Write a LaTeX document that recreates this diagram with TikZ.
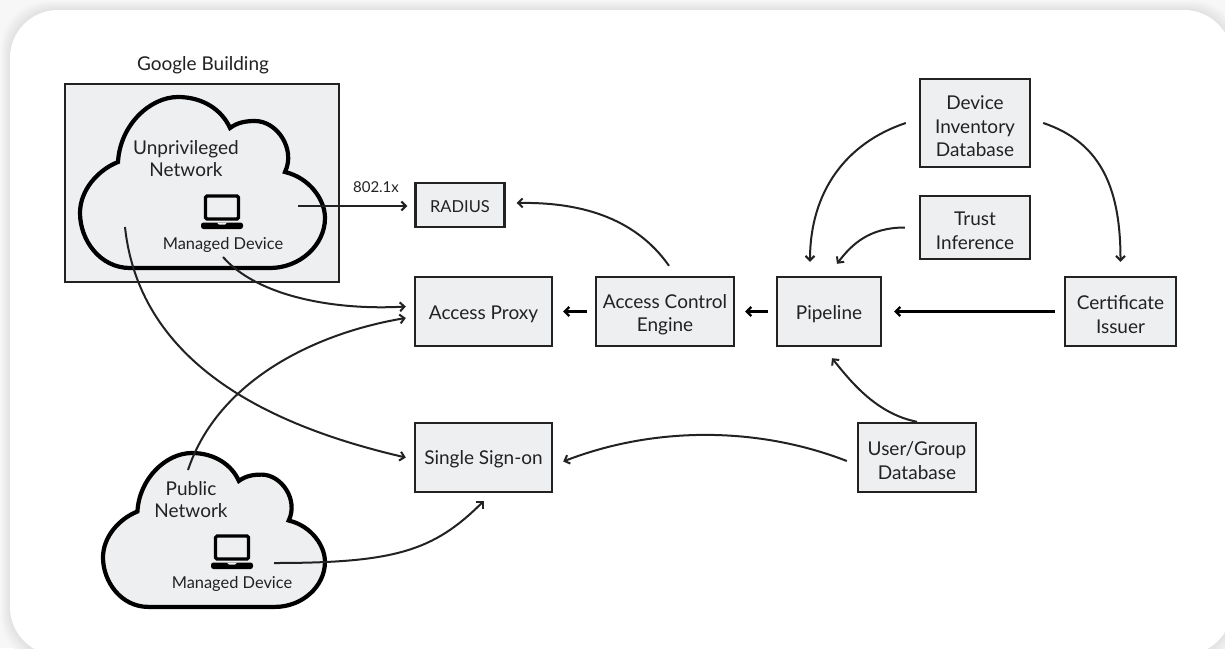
\documentclass[tikz,border=0pt]{standalone}
\usepackage{fontspec}
\setmainfont{Lato}
\usetikzlibrary{arrows.meta}

\definecolor{boxgrey}{HTML}{EEEFF1}
\definecolor{inkdark}{HTML}{222222}
\newcommand{\firstln}{\rule{0pt}{1.08em}}

\tikzset{
  boxnode/.style={draw=inkdark,fill=boxgrey,line width=2.4pt,text=inkdark,align=center,inner sep=0pt,
    font=\fontsize{19}{23.5}\selectfont,execute at begin node={\rule{0pt}{.97em}}},
  textnode/.style={text=inkdark,align=center,inner sep=0pt,font=\fontsize{19}{22}\selectfont},
  smalltext/.style={text=inkdark,align=center,inner sep=0pt,font=\fontsize{16.4}{18}\selectfont},
  curved/.style={draw=inkdark,line width=2pt,-{Straight Barb[length=4.5pt,width=9pt,line width=2pt]}},
  straight/.style={draw=black,line width=2.2pt,-{Straight Barb[length=4.5pt,width=9pt,line width=2.2pt]}},
  cloudpic/.pic={
    \draw[draw=black,fill=boxgrey,line width=4.2pt,miter limit=2]
      (50,171) .. controls (20,171) and (0,143) .. (0,116)
      .. controls (0,93) and (18,73) .. (38,65)
      .. controls (40,28) and (70,0) .. (98,0)
      .. controls (123,0) and (142,13) .. (150,31)
      .. controls (158,25) and (167,24) .. (175,24)
      .. controls (197,24) and (216,52) .. (205,75)
      .. controls (230,81) and (245,103) .. (245,121)
      .. controls (245,148) and (220,171) .. (190,171) -- cycle;
  },
  laptoppic/.pic={
    \draw[black,line width=3.2pt,rounded corners=1.5pt] (-16.5,-13) rectangle (16.5,10);
    \fill[black,rounded corners=2.5pt] (-21,13.5) rectangle (21,20);
    \fill[boxgrey] (-5,13.5) -- (5,13.5) -- (3,15.5) -- (-3,15.5) -- cycle;
  },
}

\begin{document}
\begin{tikzpicture}[x=1pt,y=-1pt]
\useasboundingbox (0,0) rectangle (1225,648);
\begin{scope}
\clip (0,0) rectangle (1225,648);
\fill[black!3] (0,0) rectangle (1225,648);
\foreach \i in {1,...,9} {
  \pgfmathsetmacro{\grow}{10-\i}
  \pgfmathsetmacro{\shade}{3+\i*0.9}
  \fill[black!\shade,rounded corners=48pt] (10-\grow,10-\grow) rectangle (1232+\grow,655+\grow);
}
\fill[white,rounded corners=48pt] (10,10) rectangle (1232,655);
\end{scope}

% building and networks
\node[boxnode,minimum width=274pt,minimum height=198pt] (building) at (202,183) {};
\node[textnode] (buildinglabel) at (203,65) {Google Building};
\pic at (80,97) {cloudpic};
\pic[xscale=.906,yscale=.9] at (103,453) {cloudpic};
\node[textnode] (unprivnet) at (186,159) {Unprivileged\\Network};
\node[textnode] (publicnet) at (191,500) {Public\\Network};
\pic at (222,209) {laptoppic};
\pic at (232,549) {laptoppic};
\node[smalltext] (unprivdev) at (223,245) {Managed Device};
\node[smalltext] (publicdev) at (232,584) {Managed Device};

% servers
\node[boxnode,minimum width=89pt,minimum height=44pt,font=\fontsize{16.5}{18}\selectfont] (radius) at (460,205) {RADIUS};
\node[boxnode,minimum width=137pt,minimum height=69pt] (proxy) at (483.5,311.5) {Access Proxy};
\node[boxnode,minimum width=138pt,minimum height=69pt] (ace) at (665,311.5) {\firstln Access Control\\Engine};
\node[boxnode,minimum width=104pt,minimum height=69pt] (pipeline) at (829,311.5) {Pipeline};
\node[boxnode,minimum width=111pt,minimum height=69pt] (cert) at (1120.5,311.5) {\firstln Certificate\\Issuer};
\node[boxnode,minimum width=110pt,minimum height=88pt] (device) at (975,123) {\firstln Device\\Inventory\\Database};
\node[boxnode,minimum width=110pt,minimum height=63pt] (trust) at (975,227.5) {\firstln Trust\\Inference};
\node[boxnode,minimum width=118pt,minimum height=69pt] (usergroup) at (917,457.5) {\firstln User/Group\\Database};
\node[boxnode,minimum width=137pt,minimum height=69pt] (sso) at (483.5,457.5) {Single Sign-on};

% free ends inside the clouds
\coordinate (unprivport) at (298,206);
\coordinate (unprivlow) at (223,257);
\coordinate (unprivleft) at (125,227);
\coordinate (publictop) at (188,470);
\coordinate (publicport) at (274,563);

\node[smalltext,font=\fontsize{15}{16}\selectfont] (dotx) at (376,187) {802.1x};
\draw[curved,line width=2.2pt] (unprivport) -- (unprivport -| radius.west) [shorten >=7pt];
\draw[curved] ([xshift=4pt,yshift=10pt]ace.north) .. controls +(-35,-50) and +(60,-1) .. ([xshift=11pt,yshift=2pt]radius.east);
\draw[curved] (unprivlow) .. controls +(35,40) and +(-70,4) .. ([xshift=-8pt,yshift=5pt]proxy.west);
\draw[curved] (unprivleft) .. controls +(15,140) and +(-130,-30) .. ([xshift=-8pt]sso.west);
\draw[curved] (publictop) .. controls +(30,-90) and +(-90,15) .. ([xshift=-8pt,yshift=-6.5pt]proxy.west);
\draw[curved] (publicport) .. controls +(120,0) and +(-50,50) .. ([yshift=-8pt]sso.south);
\draw[curved] ([xshift=-10pt,yshift=-3.5pt]usergroup.west) .. controls +(-90,-35) and +(90,-35) .. ([xshift=10pt,yshift=-4pt]sso.east);
\draw[curved] (usergroup.north) .. controls +(-40,-8) and +(20,25) .. ([xshift=3pt,yshift=-11pt]pipeline.south);
\draw[curved] ([xshift=-13pt]device.west) .. controls +(-60,20) and +(0,-70) .. ([xshift=-19pt,yshift=14pt]pipeline.north);
\draw[curved] ([xshift=12pt]device.east) .. controls +(60,20) and +(0,-70) .. ([yshift=14pt]cert.north);
\draw[curved] ([xshift=-14pt]trust.west) .. controls +(-35,0) and +(15,-20) .. ([xshift=8pt,yshift=12pt]pipeline.north);
\draw[straight,shorten <=9pt,shorten >=12pt] (cert.west) -- (pipeline.east);
\draw[straight,shorten <=8pt,shorten >=10pt] (pipeline.west) -- (ace.east);
\draw[straight,shorten <=8pt,shorten >=10pt] (ace.west) -- (proxy.east);
\end{tikzpicture}
\end{document}
